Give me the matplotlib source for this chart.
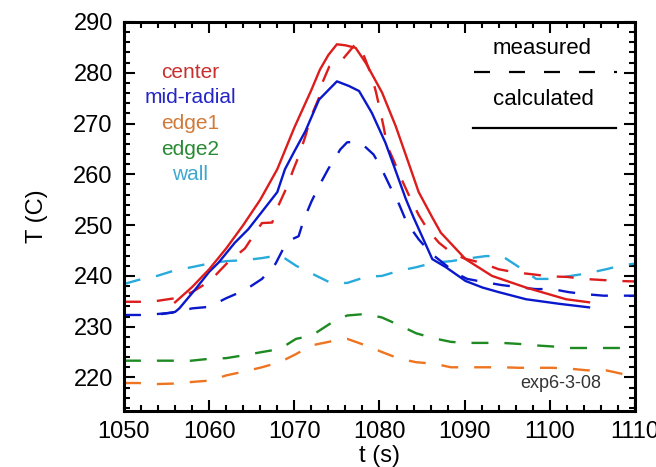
import matplotlib
matplotlib.use("Agg")
import matplotlib.pyplot as plt
from matplotlib.ticker import MultipleLocator

plt.rcParams["font.family"] = ["Liberation Sans", "DejaVu Sans"]
plt.rcParams["lines.scale_dashes"] = False

# measured center / mid-radial (dashed)
t_center_meas = [1050, 1052, 1054, 1056, 1058, 1060.1, 1062.1, 1064.2, 1065.7, 1066.2,
                 1067.4, 1068.2, 1069.1, 1069.9, 1070.5, 1071.3, 1071.9, 1072.9, 1073.1,
                 1074.1, 1075.6, 1077.2, 1078.2, 1079.1, 1079.6, 1080.1, 1080.5, 1080.9,
                 1081.7, 1082.6, 1083.5, 1084.6, 1085.7, 1087, 1088.5, 1090, 1091.9, 1094,
                 1095.9, 1098, 1099.9, 1102, 1104, 1106, 1108, 1110]
T_center_meas = [234.9, 234.9, 235.1, 235.6, 236.8, 239.0, 242.5, 245.4, 249.2, 250.4,
                 250.5, 254.1, 257.4, 261.0, 263.5, 267.5, 271.1, 275.1, 277.3,
                 281.2, 282.5, 285.7, 283.2, 279.3, 276.1, 272.4, 269.2, 265.6,
                 262.6, 259.0, 255.7, 252.0, 249.0, 246.5, 244.5, 243.4, 242.6, 241.3,
                 240.7, 240.3, 239.9, 239.8, 239.4, 239.2, 239.0, 238.9]

t_mid_meas = [1050, 1052, 1054, 1056, 1058, 1060, 1062, 1064.2, 1066.2, 1067.8, 1068.9,
              1069.3, 1070.5, 1071.1, 1072, 1072.9, 1074, 1075.4, 1076.2, 1077.2, 1078.2,
              1079.3, 1080.1, 1081.3, 1082.3, 1083.2, 1084.6, 1086, 1087.5, 1089, 1090.3,
              1092.2, 1094.3, 1096.2, 1098.3, 1100.3, 1102.2, 1104.2, 1106.3, 1108.5, 1110]
T_mid_meas = [232.3, 232.3, 232.5, 232.8, 233.6, 233.9, 235.6, 237.2, 239.4, 242.4, 246.0,
              246.9, 247.8, 251.0, 254.6, 257.7, 261.1, 264.9, 266.3, 266.4, 265.6,
              263.9, 261.6, 257.4, 254.1, 250.5, 247.2, 244.5, 242.5, 240.5, 239.4,
              238.8, 238.2, 237.8, 237.4, 237.4, 236.8, 236.4, 236.1, 236.1, 236.1]

# calculated center / mid-radial (solid)
t_center_calc = [1056, 1058, 1060, 1062, 1064, 1066, 1068, 1070, 1072, 1073, 1074, 1075,
                 1076, 1077.2, 1078.4, 1080.3, 1081.9, 1083.4, 1084.6, 1086.2, 1087.2,
                 1090.1, 1093.2, 1097.2, 1101.9, 1104.6]
T_center_calc = [234.8, 237.8, 241.3, 245.4, 250.0, 255.0, 261.0, 269.2, 276.6, 280.6,
                 283.5, 285.6, 285.4, 284.9, 281.9, 276.1, 269.5, 262.3, 256.5, 251.5,
                 248.5, 243.3, 240.0, 237.7, 235.4, 234.8]

t_mid_calc = [1054.5, 1056, 1056.5, 1058.4, 1060, 1061.1, 1063, 1064.6, 1066, 1068,
              1068.9, 1070, 1071.3, 1072.9, 1075, 1076.4, 1077.6, 1079.1, 1080.7, 1081.7,
              1083.1, 1084, 1086.2, 1087.8, 1090.1, 1092.1, 1094, 1097.2, 1101.1, 1104.6]
T_mid_calc = [232.5, 232.9, 233.6, 237.4, 240.8, 242.6, 246.5, 249.2, 252.2, 256.5,
              261.0, 264.5, 268.5, 274.7, 278.3, 277.4, 276.4, 272.1, 266.2, 261.6,
              255.1, 251.5, 243.3, 241.7, 239.0, 237.7, 236.8, 235.4, 234.5, 233.8]

# measured edge1 / edge2 / wall (dashed)
t_outer = [1050, 1051.7, 1053.9, 1056, 1057.9, 1060.2, 1062, 1064.2, 1066.2, 1068.3,
           1070.2, 1072, 1074.3, 1076.2, 1078.4, 1080.3, 1082.3, 1084.3, 1086.4, 1088.4,
           1090.3, 1092.5, 1094.4, 1096.4, 1098.4, 1100.3, 1102.5, 1104.4, 1106.6,
           1108.5, 1110]
T_edge1 = [218.9, 218.9, 218.7, 218.8, 219.1, 219.4, 220.4, 221.2, 222.0, 223.0,
           224.6, 226.3, 227.1, 227.6, 226.3, 225.0, 223.7, 223.0, 222.7, 222.0,
           222.0, 222.0, 222.0, 221.9, 221.9, 221.9, 221.7, 221.4, 221.4, 220.7, 220.4]
T_edge2 = [223.3, 223.3, 223.3, 223.3, 223.3, 223.7, 223.8, 224.4, 225.0, 225.6,
           227.6, 228.2, 230.7, 232.2, 232.5, 231.8, 230.3, 228.7, 227.7, 227.0,
           226.8, 226.8, 226.8, 226.6, 226.3, 226.1, 225.8, 225.8, 225.8, 225.8, 225.8]
T_wall = [238.4, 239.2, 240.0, 241.1, 241.7, 242.5, 242.9, 243.1, 243.5, 244.1,
          242.0, 240.5, 238.6, 238.6, 239.8, 240.0, 241.0, 241.7, 242.6, 242.9,
          243.4, 243.9, 243.9, 241.7, 239.4, 239.4, 240.0, 240.5, 241.3, 242.1, 242.4]

RED = "#dd1c1c"
BLUE = "#0a18cc"
ORANGE = "#ee7420"
GREEN = "#1e8a22"
CYAN = "#28aadc"

DASH = (0, (12.2, 11.5))

fig = plt.figure(figsize=(6.56, 4.67), dpi=100)
ax = fig.add_axes([0.189, 0.12, 0.779, 0.833])

lw = 1.7
ax.plot(t_outer, T_wall, color=CYAN, lw=lw, linestyle=DASH)
ax.plot(t_outer, T_edge2, color=GREEN, lw=lw, linestyle=DASH)
ax.plot(t_outer, T_edge1, color=ORANGE, lw=lw, linestyle=DASH)
ax.plot(t_mid_meas, T_mid_meas, color=BLUE, lw=lw, linestyle=DASH)
ax.plot(t_center_meas, T_center_meas, color=RED, lw=lw, linestyle=DASH)
ax.plot(t_mid_calc, T_mid_calc, color=BLUE, lw=lw)
ax.plot(t_center_calc, T_center_calc, color=RED, lw=lw)

ax.set_xlim(1050, 1110)
ax.set_ylim(213.4, 290)
ax.xaxis.set_major_locator(MultipleLocator(10))
ax.xaxis.set_minor_locator(MultipleLocator(2))
ax.yaxis.set_major_locator(MultipleLocator(10))
ax.yaxis.set_minor_locator(MultipleLocator(2))
ax.tick_params(which="both", direction="in", top=True, right=True,
               width=1.5, labelsize=17)
ax.tick_params(which="major", length=8)
ax.tick_params(which="minor", length=4.5)
ax.tick_params(axis="x", pad=7)
ax.tick_params(axis="y", pad=8)
for s in ax.spines.values():
    s.set_linewidth(2.2)

ax.set_xlabel("t (s)", fontsize=17, labelpad=2)
ax.set_ylabel("T (C)", fontsize=17, labelpad=18)

# series names
names = ["center", "mid-radial", "edge1", "edge2", "wall"]
name_colors = ["#c83030", "#2424c8", "#d07a3a", "#2a8a34", "#40a8d0"]
name_y = [0.871, 0.805, 0.738, 0.671, 0.609]
for nm, c, yy in zip(names, name_colors, name_y):
    ax.text(0.129, yy, nm, color=c, fontsize=15, ha="center", va="center",
            transform=ax.transAxes)

# line style key
ax.text(0.819, 0.933, "measured", fontsize=16, ha="center", va="center",
        transform=ax.transAxes)
ax.plot([0.685, 0.965], [0.871, 0.871], color="black", lw=1.6,
        linestyle=(0, (11.5, 13.7)), transform=ax.transAxes)
ax.text(0.821, 0.80, "calculated", fontsize=16, ha="center", va="center",
        transform=ax.transAxes)
ax.plot([0.683, 0.963], [0.7275, 0.7275], color="black", lw=1.6,
        transform=ax.transAxes)

ax.text(0.855, 0.071, "exp6-3-08", fontsize=13, color="#333333",
        ha="center", va="center", transform=ax.transAxes)

fig.savefig("out.png", dpi=100)
